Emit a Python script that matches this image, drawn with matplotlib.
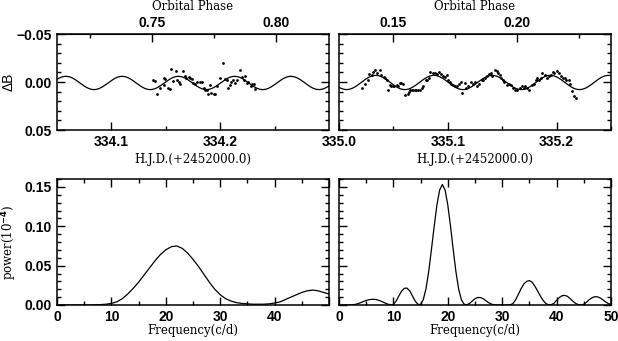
import numpy as np
import matplotlib
matplotlib.use("Agg")
from matplotlib import pyplot as plt
from matplotlib.ticker import MultipleLocator, FixedLocator, FuncFormatter

# light curve, night 1 (HJD - 2452000, delta B)
hjd1 = [334.138, 334.140, 334.142, 334.145, 334.148, 334.148, 334.149, 334.152,
        334.154, 334.155, 334.157, 334.159, 334.160, 334.162, 334.163, 334.166,
        334.168, 334.169, 334.171, 334.172, 334.174, 334.175, 334.177, 334.179,
        334.181, 334.183, 334.185, 334.186, 334.188, 334.189, 334.191, 334.192,
        334.194, 334.195, 334.197, 334.200, 334.203, 334.204, 334.206, 334.207,
        334.209, 334.210, 334.212, 334.214, 334.215, 334.218, 334.220, 334.222,
        334.223, 334.225, 334.226, 334.228, 334.229, 334.231, 334.232]
dB1 = [-0.0017, -0.0007, 0.0121, 0.0059, 0.0035, -0.0045, -0.0031, 0.0059,
       0.0072, -0.0138, -0.0010, -0.0114, -0.0024, -0.0003, 0.0017, -0.0114,
       -0.0066, -0.0045, -0.0052, -0.0038, -0.0031, 0.0010, 0.0024, 0.0000,
       -0.0003, -0.0003, 0.0059, 0.0086, 0.0079, 0.0128, 0.0035, 0.0114,
       0.0128, 0.0128, 0.0045, -0.0045, -0.0197, -0.0035, -0.0017, 0.0059,
       0.0035, 0.0000, -0.0017, 0.0010, -0.0017, -0.0121, -0.0052, -0.0017,
       -0.0059, 0.0010, 0.0000, 0.0045, 0.0017, 0.0024, 0.0069]

# light curve, night 2
hjd2 = [335.021, 335.024, 335.027, 335.028, 335.030, 335.031, 335.033, 335.035,
        335.038, 335.039, 335.041, 335.042, 335.044, 335.045, 335.047, 335.048,
        335.050, 335.051, 335.053, 335.054, 335.056, 335.057, 335.059, 335.061,
        335.063, 335.064, 335.065, 335.067, 335.068, 335.070, 335.071, 335.073,
        335.074, 335.076, 335.077, 335.080, 335.081, 335.083, 335.084, 335.086,
        335.088, 335.090, 335.092, 335.094, 335.096, 335.097, 335.099, 335.100,
        335.102, 335.103, 335.105, 335.107, 335.108, 335.110, 335.112, 335.113,
        335.116, 335.117, 335.119, 335.121, 335.123, 335.125, 335.127, 335.129,
        335.131, 335.132, 335.134, 335.136, 335.138, 335.140, 335.141, 335.143,
        335.145, 335.146, 335.148, 335.149, 335.151, 335.152, 335.154, 335.156,
        335.158, 335.160, 335.162, 335.164, 335.166, 335.168, 335.170, 335.171,
        335.173, 335.175, 335.177, 335.179, 335.181, 335.182, 335.184, 335.186,
        335.187, 335.189, 335.191, 335.193, 335.195, 335.197, 335.198, 335.200,
        335.202, 335.204, 335.206, 335.208, 335.209, 335.211, 335.212, 335.214,
        335.216, 335.218]
dB2 = [0.0059, 0.0017, -0.0017, -0.0086, -0.0069, -0.0104, -0.0121, -0.0093,
       -0.0121, -0.0069, -0.0052, -0.0045, -0.0024, 0.0079, 0.0035, 0.0045,
       0.0045, 0.0045, 0.0035, 0.0045, 0.0010, 0.0010, 0.0017, 0.0135,
       0.0121, 0.0104, 0.0086, 0.0079, 0.0079, 0.0086, 0.0079, 0.0086,
       0.0079, 0.0059, 0.0045, -0.0017, -0.0024, -0.0045, -0.0104, -0.0093,
       -0.0093, -0.0086, -0.0100, -0.0079, -0.0059, -0.0052, -0.0069, -0.0024,
       0.0000, 0.0017, 0.0035, 0.0038, 0.0045, 0.0024, -0.0003, 0.0114,
       0.0010, 0.0059, 0.0045, 0.0000, 0.0017, 0.0000, 0.0045, 0.0017,
       -0.0017, -0.0024, -0.0045, -0.0059, -0.0079, -0.0093, -0.0066, -0.0121,
       -0.0114, -0.0093, -0.0072, -0.0045, -0.0017, 0.0000, 0.0035, 0.0017,
       0.0035, 0.0059, 0.0079, 0.0079, 0.0059, 0.0045, 0.0059, 0.0045,
       0.0059, 0.0086, 0.0035, 0.0017, -0.0017, -0.0045, -0.0017, -0.0045,
       -0.0093, -0.0069, -0.0045, -0.0059, -0.0069, -0.0104, -0.0093, -0.0114,
       -0.0093, -0.0059, -0.0045, -0.0045, -0.0024, -0.0017, 0.0017, 0.0093,
       0.0148, 0.0162]

# sinusoid fits: (offset, amplitude, frequency c/d, epoch of max dB)
fit1 = (0.0010, 0.0069, 19.34, 334.084)
fit2 = (0.0005, 0.0074, 18.69, 335.007)

# orbital ephemeris
T0 = 332.4275
P_ORB = 2.28
phase_ticks1 = [0.75, 0.80]
phase_minor1 = [0.725, 0.775, 0.825]
phase_ticks2 = [0.15, 0.20]
phase_minor2 = [0.125, 0.175, 0.225]

# power spectra
freq1 = list(range(0, 51))
pow1 = [0.0, 0.0, 0.0, 0.0, 0.0, 0.0, 0.0, 0.0002, 0.0005, 0.001,
        0.002, 0.004, 0.008, 0.014, 0.021, 0.029, 0.038, 0.047, 0.056, 0.064,
        0.070, 0.074, 0.075, 0.072, 0.066, 0.058, 0.049, 0.039, 0.029, 0.020,
        0.013, 0.008, 0.005, 0.003, 0.002, 0.0015, 0.001, 0.001, 0.001, 0.0015,
        0.0025, 0.004, 0.007, 0.010, 0.013, 0.016, 0.018, 0.019, 0.018, 0.016,
        0.014]

freq2 = [x * 0.5 for x in range(0, 101)]
pow2 = [0.0, 0.0, 0.0, 0.0, 0.0, 0.0003, 0.0008, 0.0018, 0.003, 0.0045,
        0.0058, 0.0067, 0.0072, 0.0072, 0.0066, 0.0055, 0.004, 0.0024, 0.001, 0.0002,
        0.0008, 0.005, 0.0115, 0.0175, 0.0212, 0.0215, 0.018, 0.0115, 0.005, 0.001,
        0.0005, 0.007, 0.021, 0.043, 0.071, 0.100, 0.127, 0.146, 0.153, 0.146,
        0.127, 0.100, 0.070, 0.042, 0.020, 0.0065, 0.001, 0.0003, 0.002, 0.005,
        0.008, 0.0095, 0.0095, 0.008, 0.0055, 0.003, 0.0012, 0.0003, 0.0, 0.0,
        0.0, 0.0, 0.0, 0.0003, 0.002, 0.007, 0.014, 0.021, 0.027, 0.030,
        0.031, 0.029, 0.024, 0.018, 0.0115, 0.006, 0.002, 0.0003, 0.0003, 0.002,
        0.006, 0.0095, 0.0118, 0.0122, 0.011, 0.008, 0.0048, 0.002, 0.0005, 0.0001,
        0.001, 0.0035, 0.0068, 0.0092, 0.0105, 0.0104, 0.009, 0.0066, 0.004, 0.0018,
        0.0008]

SANS = "Liberation Sans"
SERIF = "DejaVu Serif"
plt.rcParams["font.family"] = SANS
plt.rcParams["font.size"] = 10
plt.rcParams["font.weight"] = "bold"

minus = FuncFormatter(lambda v, p: f"{v:.2f}".replace("-", "\u2212"))


def style(ax, top=True):
    ax.tick_params(which="both", direction="in", right=True, top=top,
                   width=1.0, labelsize=10)
    ax.tick_params(which="major", length=6)
    ax.tick_params(which="minor", length=3)
    for s in ax.spines.values():
        s.set_linewidth(1.1)


fig = plt.figure(figsize=(6.18, 3.41), dpi=100)
W = 272 / 618
axA = fig.add_axes([57 / 618, 1 - 130 / 341, W, 96 / 341])
axB = fig.add_axes([339 / 618, 1 - 130 / 341, W, 96 / 341])
axC = fig.add_axes([57 / 618, 1 - 305 / 341, W, 126 / 341])
axD = fig.add_axes([339 / 618, 1 - 305 / 341, W, 126 / 341])

panels = [(axA, hjd1, dB1, fit1, (334.05, 334.30), [334.1, 334.2], 0,
           phase_ticks1, phase_minor1),
          (axB, hjd2, dB2, fit2, (335.0, 335.25), [335.0, 335.1, 335.2], 1,
           phase_ticks2, phase_minor2)]
for ax, t, dB, fit, xl, ticks, cyc, pmaj, pmin in panels:
    tt = np.linspace(xl[0], xl[1], 800)
    c, a, f, te = fit
    ax.plot(tt, c + a * np.cos(2 * np.pi * f * (tt - te)), color="black", lw=0.9)
    ax.scatter(t, dB, s=4, color="black", linewidths=0)
    ax.set_xlim(*xl)
    ax.set_ylim(0.05, -0.05)
    ax.xaxis.set_major_locator(FixedLocator(ticks))
    ax.xaxis.set_minor_locator(FixedLocator([v + 0.05 for v in ticks]))
    ax.xaxis.set_major_formatter(FuncFormatter(lambda v, p: f"{v:.1f}"))
    ax.yaxis.set_major_locator(MultipleLocator(0.05))
    ax.yaxis.set_minor_locator(MultipleLocator(0.01))
    ax.yaxis.set_major_formatter(minus)
    style(ax, top=False)
    ax.set_xlabel("H.J.D.(+2452000.0)", family=SERIF, fontsize=8.5,
                  fontweight="normal", labelpad=3)

    sec = ax.secondary_xaxis(
        "top",
        functions=(lambda x, n=cyc: (x - T0) / P_ORB - n,
                   lambda p, n=cyc: (p + n) * P_ORB + T0))
    sec.xaxis.set_major_locator(FixedLocator(pmaj))
    sec.xaxis.set_minor_locator(FixedLocator(pmin))
    sec.xaxis.set_major_formatter(FuncFormatter(lambda v, p: f"{v:.2f}"))
    sec.tick_params(which="both", direction="in", width=1.0, labelsize=10, pad=3)
    sec.tick_params(which="major", length=6)
    sec.tick_params(which="minor", length=3)
    sec.set_xlabel("Orbital Phase", family=SERIF, fontsize=8.5,
                   fontweight="normal", labelpad=4)

axA.set_ylabel("\u0394B", fontsize=10, labelpad=1)
axB.tick_params(labelleft=False)

for ax, fr, pw in [(axC, freq1, pow1), (axD, freq2, pow2)]:
    ax.plot(fr, pw, color="black", lw=0.9)
    ax.set_xlim(0, 50)
    ax.set_ylim(0, 0.16)
    ax.xaxis.set_major_locator(MultipleLocator(10))
    ax.xaxis.set_minor_locator(MultipleLocator(5))
    ax.yaxis.set_major_locator(MultipleLocator(0.05))
    ax.yaxis.set_minor_locator(MultipleLocator(0.01))
    ax.yaxis.set_major_formatter(FuncFormatter(lambda v, p: f"{v:.2f}"))
    style(ax)
    ax.set_xlabel("Frequency(c/d)", family=SERIF, fontsize=8.5,
                  fontweight="normal", labelpad=0)

axC.xaxis.set_major_formatter(FuncFormatter(lambda v, p: "" if v >= 50 else f"{v:.0f}"))
axD.xaxis.set_major_formatter(FuncFormatter(lambda v, p: f"{v:.0f}"))
axC.set_ylabel("power(10$^{-4}$)", family=SERIF, fontsize=8.5,
               fontweight="normal", labelpad=4)
axD.tick_params(labelleft=False)

fig.savefig("out.png", dpi=100)
